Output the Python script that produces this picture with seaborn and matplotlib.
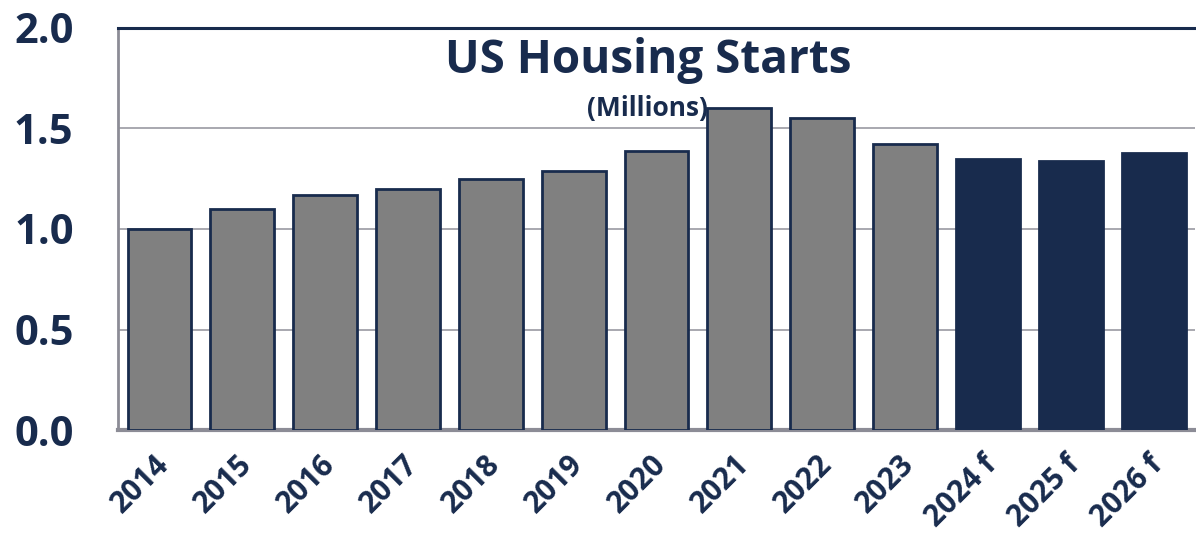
import pandas as pd
import seaborn as sns
import matplotlib.pyplot as plt
from matplotlib.transforms import ScaledTranslation

sns.set_theme(style="white")
plt.rcParams["font.family"] = ["Open Sans", "DejaVu Sans"]

NAVY = "#182B4D"
GRAY = "#808080"

years = ["2014", "2015", "2016", "2017", "2018", "2019", "2020",
         "2021", "2022", "2023", "2024 f", "2025 f", "2026 f"]
starts = [1.00, 1.10, 1.17, 1.20, 1.25, 1.29, 1.39,
          1.60, 1.55, 1.42, 1.35, 1.34, 1.38]
kind = ["actual"] * 10 + ["forecast"] * 3

df = pd.DataFrame({"year": years, "starts": starts, "kind": kind})

fig = plt.figure(figsize=(11.96, 5.35), dpi=100)
ax = fig.add_axes([0.0987, 0.196, 0.9005, 0.752])

sns.barplot(data=df, x="year", y="starts", hue="kind",
            palette={"actual": GRAY, "forecast": NAVY}, saturation=1,
            dodge=False, width=0.77, edgecolor=NAVY, linewidth=2,
            legend=False, ax=ax, zorder=3)

ax.set_ylim(0, 2.0)
ax.set_xlim(-0.5, len(years) - 0.5)
ax.set_yticks([0, 0.5, 1.0, 1.5, 2.0])
ax.set_yticklabels(["0.0", "0.5", "1.0", "1.5", "2.0"],
                   fontsize=30, fontweight="bold", color=NAVY)
ax.set_xticks(range(len(years)))
ax.set_xticklabels(years, rotation=45, ha="right", va="center",
                   rotation_mode="anchor",
                   fontsize=21.5, fontweight="bold", color=NAVY)
ax.tick_params(axis="y", length=0, pad=32)
ax.tick_params(axis="x", length=0, pad=0)
# rotated labels end just right of each bar centre, as in the source
shift = ScaledTranslation(0.05, -0.30, fig.dpi_scale_trans)
for lab in ax.get_xticklabels():
    lab.set_transform(lab.get_transform() + shift)
ax.set_xlabel("")
ax.set_ylabel("")

for y in [0.5, 1.0, 1.5]:
    ax.axhline(y, color="#9A9AA2", linewidth=1.2, zorder=1)

ax.spines["top"].set_color(NAVY)
ax.spines["top"].set_linewidth(2.2)
ax.spines["left"].set_color("#8C8C96")
ax.spines["left"].set_linewidth(2)
ax.spines["bottom"].set_color("#8C8C96")
ax.spines["bottom"].set_linewidth(3)
ax.spines["right"].set_visible(False)

ax.text(0.492, 0.92, "US Housing Starts", transform=ax.transAxes,
        ha="center", va="center", fontsize=33, fontweight="bold", color=NAVY)
ax.text(0.492, 0.80, "(Millions)", transform=ax.transAxes,
        ha="center", va="center", fontsize=19, fontweight="bold", color=NAVY,
        zorder=5)

fig.savefig("out.png", dpi=100)
